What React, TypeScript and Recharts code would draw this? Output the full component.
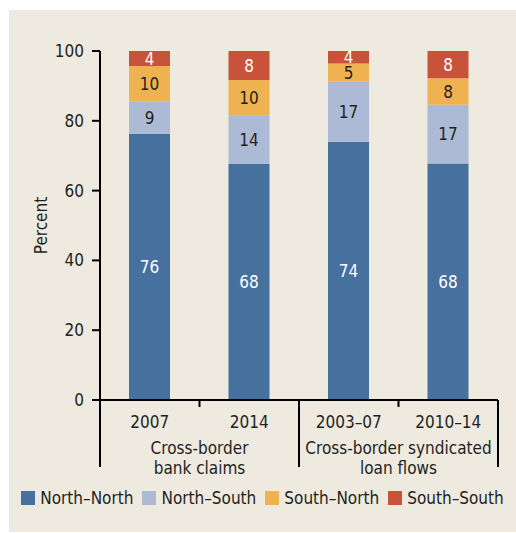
import React from 'react';
import { BarChart, Bar, XAxis, YAxis, LabelList, Legend, Label } from 'recharts';

const periods = ['2007', '2014', '2003–07', '2010–14'];
const groupLabels = [
  ['Cross-border', 'bank claims'],
  ['Cross-border syndicated', 'loan flows'],
];
const northNorth = [76.2, 67.6, 74.0, 67.8];
const northSouth = [9.4, 14.0, 17.2, 16.8];
const southNorth = [10.1, 10.1, 5.2, 7.6];
const southSouth = [4.3, 8.3, 3.6, 7.8];
const yTicks = [0, 20, 40, 60, 80, 100];

const data = periods.map((p, i) => ({
  period: p,
  nn: northNorth[i],
  ns: northSouth[i],
  sn: southNorth[i],
  ss: southSouth[i],
}));

const FONT = '"Liberation Sans Narrow", "DejaVu Sans Condensed", "Roboto", sans-serif';
const INK = '#231F20';
const BG = '#EEEAE0';
const FS = 17;

const series = [
  { key: 'nn', name: 'North–North', color: '#46709E', text: '#FFFFFF' },
  { key: 'ns', name: 'North–South', color: '#ADBAD5', text: INK },
  { key: 'sn', name: 'South–North', color: '#EFB251', text: INK },
  { key: 'ss', name: 'South–South', color: '#C8523A', text: '#FFFFFF' },
];

// two level category axis: year label, then group label under each pair
const CategoryTick = (props: any) => {
  const { x, y, payload, index } = props;
  const band = (props.width || 398) / periods.length;
  const right = x + band / 2;
  const odd = index % 2 === 1;
  return (
    <g>
      <text x={x} y={y + 27.5} textAnchor="middle" fontSize={FS} fill={INK}>
        {payload.value}
      </text>
      <line x1={right} x2={right} y1={y} y2={y + (odd ? 67 : 7)} stroke="#000" strokeWidth={2} />
      {index === 0 && (
        <line x1={x - band / 2} x2={x - band / 2} y1={y} y2={y + 67} stroke="#000" strokeWidth={2} />
      )}
      {odd && (
        <text x={x - band / 2} y={y + 54} textAnchor="middle" fontSize={FS} fill={INK}>
          <tspan x={x - band / 2}>{groupLabels[(index - 1) / 2][0]}</tspan>
          <tspan x={x - band / 2} dy={20}>{groupLabels[(index - 1) / 2][1]}</tspan>
        </text>
      )}
    </g>
  );
};

const YLabel = (props: any) => {
  const vb = props.viewBox || { x: 0, y: 41, width: 91, height: 349 };
  const cx = vb.x + 32;
  const cy = vb.y + vb.height / 2;
  return (
    <text x={cx} y={cy} transform={`rotate(-90 ${cx} ${cy})`} textAnchor="middle" dominantBaseline="central" fontSize={FS} fill={INK}>
      Percent
    </text>
  );
};

const LegendRow = (props: any) => {
  const items = props.payload || [];
  return (
    <div style={{ display: 'flex', justifyContent: 'center', alignItems: 'center', gap: 9, fontSize: FS, color: INK, whiteSpace: 'nowrap' }}>
      {items.map((it: any) => (
        <div key={it.value} style={{ display: 'flex', alignItems: 'center', gap: 5 }}>
          <span style={{ display: 'inline-block', width: 14, height: 14, background: it.color }} />
          <span>{it.value}</span>
        </div>
      ))}
    </div>
  );
};

export default function App() {
  return (
    <div style={{ position: 'absolute', left: 9, top: 10, width: 507, height: 522, background: BG, fontFamily: FONT }}>
      <BarChart width={507} height={522} data={data} margin={{ top: 41, right: 18, bottom: 52, left: 0 }}>
        <XAxis
          dataKey="period"
          height={80}
          tickLine={false}
          tickSize={0}
          tickMargin={0}
          axisLine={{ stroke: '#000', strokeWidth: 2 }}
          tick={<CategoryTick />}
          interval={0}
        />
        <YAxis
          width={91}
          domain={[0, 100]}
          ticks={yTicks}
          tickSize={8}
          tickMargin={8}
          axisLine={{ stroke: '#000', strokeWidth: 2 }}
          tickLine={{ stroke: '#000', strokeWidth: 2 }}
          tick={{ fill: INK, fontSize: FS }}
        >
          <Label content={<YLabel />} />
        </YAxis>
        <Legend
          layout="horizontal"
          align="center"
          verticalAlign="middle"
          wrapperStyle={{ top: 478, left: 0, width: 507 }}
          content={<LegendRow />}
        />
        {series.map((s) => (
          <Bar key={s.key} dataKey={s.key} name={s.name} stackId="a" fill={s.color} barSize={41} isAnimationActive={false}>
            <LabelList
              dataKey={s.key}
              position="center"
              fill={s.text}
              fontSize={FS}
              formatter={(v: any) => Math.round(Number(v))}
            />
          </Bar>
        ))}
      </BarChart>
    </div>
  );
}
